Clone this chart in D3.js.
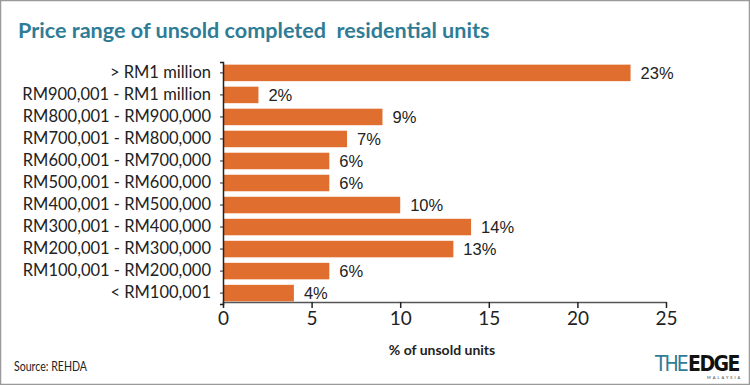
<!DOCTYPE html>
<html>
<head>
<meta charset="utf-8">
<script src="https://d3js.org/d3.v7.min.js"></script>
<style>
  body { margin: 0; background: #fff; }
  svg { display: block; font-family: Lato, "Open Sans", sans-serif; }
</style>
</head>
<body>
<div id="chart"></div>
<script>
// data
var categories = ["> RM1 million", "RM900,001 - RM1 million", "RM800,001 - RM900,000",
  "RM700,001 - RM800,000", "RM600,001 - RM700,000", "RM500,001 - RM600,000",
  "RM400,001 - RM500,000", "RM300,001 - RM400,000", "RM200,001 - RM300,000",
  "RM100,001 - RM200,000", "< RM100,001"];
var shares = [23, 2, 9, 7, 6, 6, 10, 14, 13, 6, 4];
var xTicks = [0, 5, 10, 15, 20, 25];

var W = 750, H = 385;
var svg = d3.select("#chart").append("svg").attr("width", W).attr("height", H);

// frame
svg.append("rect").attr("x", 0.5).attr("y", 0.5).attr("width", W - 1).attr("height", H - 1)
  .attr("fill", "none").attr("stroke", "#9a9a9a").attr("stroke-width", 1.5);

svg.append("text").attr("x", 18).attr("y", 38)
  .attr("fill", "#2f7c96").style("font-size", "21.6px").style("font-weight", "bold")
  .style("white-space", "pre")
  .text("Price range of unsold completed  residential units");

var x = d3.scaleLinear().domain([0, 25]).range([223, 666]);
var y = d3.scaleBand().domain(categories).range([62, 304]).paddingInner(0.25).paddingOuter(0.12);

svg.selectAll("rect.bar").data(shares).enter().append("rect")
  .attr("class", "bar")
  .attr("x", x(0) + 1)
  .attr("y", function(d, i) { return y(categories[i]); })
  .attr("width", function(d) { return x(d) - x(0) - 1; })
  .attr("height", y.bandwidth())
  .attr("fill", "#e06e2e");

svg.selectAll("text.val").data(shares).enter().append("text")
  .attr("class", "val")
  .attr("x", function(d) { return x(d) + 10; })
  .attr("y", function(d, i) { return y(categories[i]) + y.bandwidth() / 2; })
  .attr("dy", "0.36em")
  .attr("fill", "#222").style("font-size", "16.5px")
  .style("font-family", "'Liberation Sans', Arial, sans-serif")
  .text(function(d) { return d + "%"; });

// y axis
var yAxis = svg.append("g").attr("transform", "translate(" + x(0) + ",0)")
  .call(d3.axisLeft(y).tickSize(3).tickPadding(9));
yAxis.select(".domain").attr("stroke", "#222").attr("stroke-width", 1.5);
yAxis.selectAll(".tick line").attr("stroke", "#222");
yAxis.selectAll(".tick text").attr("fill", "#222").style("font-size", "16.5px")
  .style("font-family", "Lato, sans-serif");

// x axis
var xAxis = svg.append("g").attr("transform", "translate(0,302)")
  .call(d3.axisBottom(x).tickValues(xTicks).tickSize(6).tickSizeOuter(0).tickPadding(4));
xAxis.select(".domain").attr("stroke", "#555").attr("stroke-width", 1.5);
xAxis.selectAll(".tick line").attr("stroke", "#222").attr("stroke-width", 1.5);
xAxis.selectAll(".tick text").attr("fill", "#222").style("font-size", "19px")
  .style("font-family", "Lato, sans-serif");

svg.append("text").attr("x", 442).attr("y", 355).attr("text-anchor", "middle")
  .attr("fill", "#222").style("font-size", "14px").style("font-weight", "bold")
  .text("% of unsold units");

svg.append("text").attr("x", 14).attr("y", 371)
  .attr("fill", "#222").style("font-size", "14px")
  .attr("textLength", 73).attr("lengthAdjust", "spacingAndGlyphs")
  .text("Source: REHDA");

// logo
var logo = svg.append("g").attr("transform", "translate(655,371)");
logo.append("text").attr("x", 0).attr("y", 0).attr("fill", "#2f7c96")
  .style("font-size", "21px").style("font-weight", "300").style("letter-spacing", "-2px")
  .style("font-family", "'DejaVu Sans Condensed', sans-serif").text("THE");
logo.append("text").attr("x", 33).attr("y", 0).attr("fill", "#111")
  .style("font-size", "21px").style("font-weight", "900").style("letter-spacing", "-1.5px")
  .style("font-family", "'Liberation Sans Narrow', 'DejaVu Sans Condensed', sans-serif").text("EDGE");
logo.append("text").attr("x", 52).attr("y", 8).attr("fill", "#333")
  .style("font-size", "4px").style("letter-spacing", "2px").text("MALAYSIA");
</script>
</body>
</html>
